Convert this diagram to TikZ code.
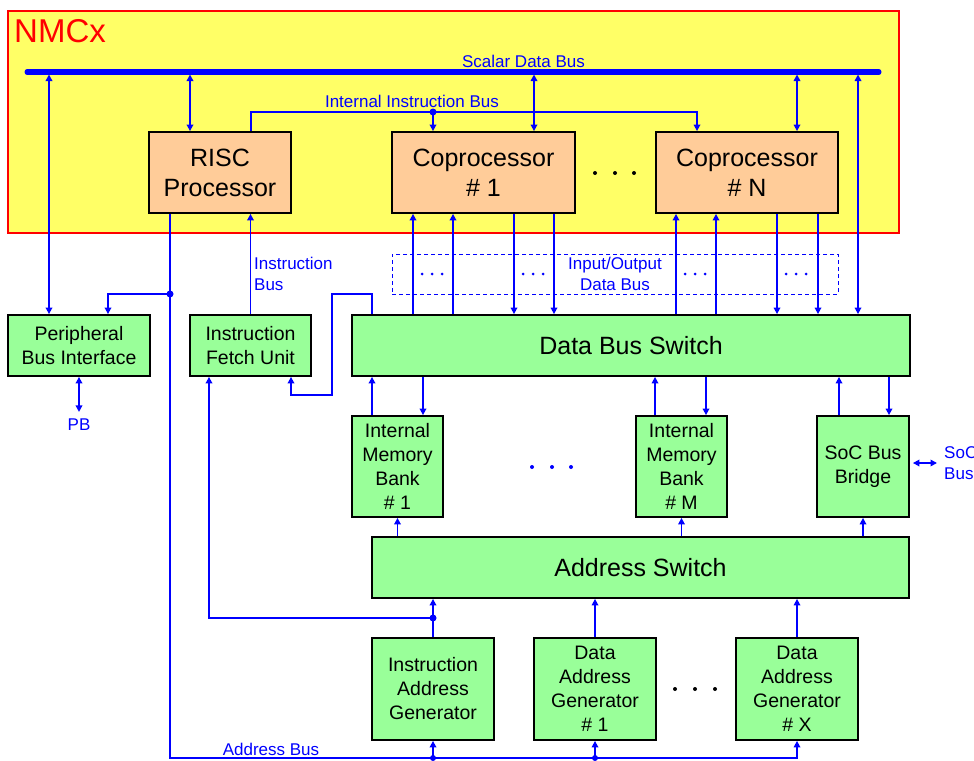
\documentclass[tikz,border=0pt]{standalone}
\usepackage{fontspec}
\setmainfont{Liberation Sans}
\usetikzlibrary{arrows.meta,calc}
\definecolor{nmcyellow}{RGB}{255,255,102}
\definecolor{nmcred}{RGB}{255,0,0}
\definecolor{procorange}{RGB}{255,204,153}
\definecolor{unitgreen}{RGB}{153,255,153}
\definecolor{busblue}{RGB}{0,0,255}
\begin{document}
\begin{tikzpicture}[x=1pt,y=-1pt,
  box/.style={draw=black,line width=1.8pt,inner sep=0pt,align=center,text=black},
  proc/.style={box,fill=procorange,font=\fontsize{25}{30}\selectfont},
  unit/.style={box,fill=unitgreen,font=\fontsize{19.5}{24}\selectfont},
  bigunit/.style={box,fill=unitgreen,font=\fontsize{25}{30}\selectfont},
  lbl/.style={text=busblue,font=\fontsize{17}{21}\selectfont,inner sep=0pt},
  wire/.style={draw=busblue,line width=1.8pt},
  arr/.style={wire,-{Triangle[length=6.5pt,width=6.5pt]}},
  dbl/.style={wire,{Triangle[length=6.5pt,width=6.5pt]}-{Triangle[length=6.5pt,width=6.5pt]}},
]
\useasboundingbox (0,0) rectangle (974,760);
\fill[white] (0,0) rectangle (974,760);

% NMCx frame
\node[draw=nmcred,fill=nmcyellow,line width=1.2pt,inner sep=0pt,minimum width=891pt,minimum height=222pt] (nmc) at (453.5,122) {};
\node[text=nmcred,font=\fontsize{33}{40}\selectfont,anchor=base west,inner sep=0pt] (nmcx) at (14,43) {NMCx};

% I/O data bus frame
\node[draw=busblue,dash pattern=on 4pt off 3pt,line width=1pt,inner sep=0pt,minimum width=446pt,minimum height=40pt] (io) at (615,274) {};
\node[lbl,align=center] (iolbl) at (615,273.5) {Input/Output\\Data Bus};
\foreach \x in {432,533,695,796}{\foreach \d in {-10,0,10}{\fill[busblue] (\x+\d,274) circle (1.5pt);}}

% processors
\node[proc,minimum width=142pt,minimum height=81pt] (risc) at (220,172.5) {RISC\\Processor};
\node[proc,minimum width=183pt,minimum height=81pt] (cop1) at (483.5,172.5) {Coprocessor\\\# 1};
\node[proc,minimum width=182pt,minimum height=81pt] (copN) at (747,172.5) {Coprocessor\\\# N};
\foreach \x in {595,615,634}{\fill[black] (\x,173) circle (2pt);}

% units
\node[unit,minimum width=142pt,minimum height=61pt] (pbi) at (79,345.5) {Peripheral\\Bus Interface};
\node[unit,minimum width=121pt,minimum height=61pt] (ifu) at (250.5,345.5) {Instruction\\Fetch Unit};
\node[bigunit,minimum width=558pt,minimum height=61pt] (dbs) at (631,345.5) {Data Bus Switch};
\node[unit,minimum width=91pt,minimum height=101pt] (imb1) at (397.5,466.5) {Internal\\Memory\\Bank\\\# 1};
\node[unit,minimum width=91pt,minimum height=101pt] (imbM) at (681.5,466.5) {Internal\\Memory\\Bank\\\# M};
\node[unit,minimum width=92pt,minimum height=101pt] (soc) at (863,466.5) {SoC Bus\\Bridge};
\foreach \x in {532,552,571}{\fill[busblue] (\x,467) circle (2pt);}
\node[bigunit,minimum width=537pt,minimum height=61pt] (as) at (640.5,567.5) {Address Switch};
\node[unit,minimum width=122pt,minimum height=102pt] (iag) at (433,689) {Instruction\\Address\\Generator};
\node[unit,minimum width=122pt,minimum height=102pt] (dag1) at (595,689) {Data\\Address\\Generator\\\# 1};
\node[unit,minimum width=122pt,minimum height=102pt] (dagX) at (797,689) {Data\\Address\\Generator\\\# X};
\foreach \x in {675,695,715}{\fill[black] (\x,689) circle (2pt);}

% scalar data bus
\coordinate (busL) at (27,72);
\coordinate (busR) at (879,72);
\draw[busblue,line width=5pt,line cap=round] (busL) -- (busR);
\node[lbl] (sdb) at (523.5,61) {Scalar Data Bus};
\coordinate (tA) at (49,74.5);
\coordinate (tB) at (190,74.5);
\coordinate (tC) at (534,74.5);
\coordinate (tD) at (797,74.5);
\coordinate (tE) at (858,74.5);
\draw[dbl] (tA) -- (tA |- pbi.north);
\draw[dbl] (tB) -- (tB |- risc.north);
\draw[dbl] (tC) -- (tC |- cop1.north);
\draw[dbl] (tD) -- (tD |- copN.north);
\draw[dbl] (tE) -- (tE |- dbs.north);

% internal instruction bus
\coordinate (iibj) at (433,112);
\draw[arr] (251,0 |- risc.north) -- (251,112) -- (697,112) -- (697,0 |- copN.north);
\draw[arr] (iibj) -- (iibj |- cop1.north);
\fill[busblue] (iibj) circle (3.5pt);
\node[lbl] (iiblbl) at (412,101.5) {Internal Instruction Bus};

% coprocessor data lines
\foreach \x in {413,453}{\draw[arr] (\x,0 |- dbs.north) -- (\x,0 |- cop1.south);}
\foreach \x in {514,554}{\draw[arr] (\x,0 |- cop1.south) -- (\x,0 |- dbs.north);}
\foreach \x in {676,716}{\draw[arr] (\x,0 |- dbs.north) -- (\x,0 |- copN.south);}
\foreach \x in {777,818}{\draw[arr] (\x,0 |- copN.south) -- (\x,0 |- dbs.north);}

% instruction bus
\draw[arr] (ifu.north) -- (ifu.north |- risc.south);
\node[lbl,align=left,anchor=west] (iblbl) at (254,273.5) {Instruction\\Bus};

% RISC to address bus
\coordinate (rj) at (170,294);
\coordinate (abL) at (170,758);
\draw[arr] (170,0 |- risc.south) -- (abL) -| (dagX.south);
\draw[arr] (rj) -- (108,294) -- (108,0 |- pbi.north);
\fill[busblue] (rj) circle (3.5pt);
\node[lbl] (ablbl) at (271,749) {Address Bus};
\coordinate (abI) at (433,758);
\coordinate (abD) at (595,758);
\draw[arr] (abI) -- (iag.south);
\draw[arr] (abD) -- (dag1.south);
\fill[busblue] (abI) circle (3pt);
\fill[busblue] (abD) circle (3pt);

% generators to address switch
\coordinate (iagj) at (433,618);
\draw[arr] (iag.north) -- (iag.north |- as.south);
\draw[arr] (iagj) -- (209,618) -- (209,0 |- ifu.south);
\fill[busblue] (iagj) circle (3.5pt);
\draw[arr] (dag1.north) -- (dag1.north |- as.south);
\draw[arr] (dagX.north) -- (dagX.north |- as.south);

% address switch to memories
\draw[arr] (imb1.south |- as.north) -- (imb1.south);
\draw[arr] (imbM.south |- as.north) -- (imbM.south);
\draw[arr] (soc.south |- as.north) -- (soc.south);

% data bus switch to memories
\draw[arr] (372,0 |- imb1.north) -- (372,0 |- dbs.south);
\draw[arr] (423,0 |- dbs.south) -- (423,0 |- imb1.north);
\draw[arr] (655,0 |- imbM.north) -- (655,0 |- dbs.south);
\draw[arr] (706,0 |- dbs.south) -- (706,0 |- imbM.north);
\draw[arr] (839,0 |- soc.north) -- (839,0 |- dbs.south);
\draw[arr] (889,0 |- dbs.south) -- (889,0 |- soc.north);

% data bus switch to fetch unit
\draw[arr] (372,0 |- dbs.north) -- (372,294) -- (332,294) -- (332,395) -- (291,395) -- (291,0 |- ifu.south);

% peripheral bus
\node[lbl] (pb) at (79,425) {PB};
\draw[dbl,shorten >=7pt] (pbi.south) -- (pb.north);

% SoC bus
\node[lbl,align=left,anchor=west] (socbus) at (944,463) {SoC\\Bus};
\draw[dbl,shorten <=3pt,shorten >=7pt] (soc.east |- socbus.west) -- (socbus.west);
\end{tikzpicture}
\end{document}
